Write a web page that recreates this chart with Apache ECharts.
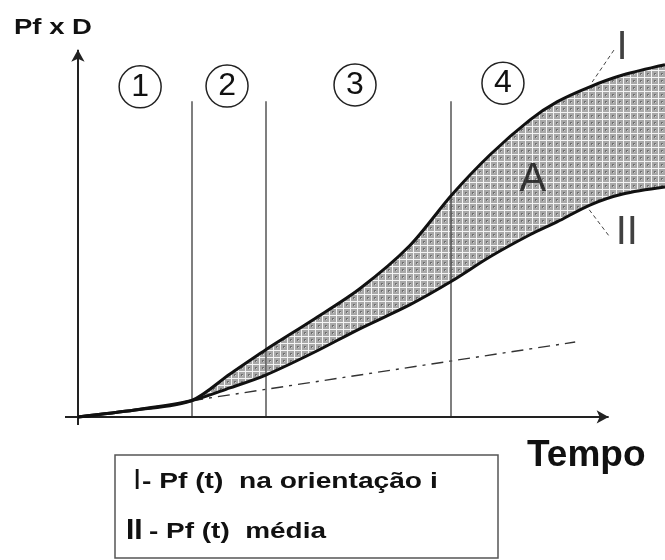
<!DOCTYPE html>
<html><head><meta charset="utf-8">
<script src="https://cdn.jsdelivr.net/npm/echarts@6/dist/echarts.min.js"></script>
<style>html,body{margin:0;padding:0;background:#fff}#c{width:665px;height:560px}</style>
</head><body><div id="c"></div>
<script>
// ---- data ----
const tempoComum = [0, 9.7, 19.3];
const pfComum = [0, 1.9, 4.4];
const tempo = [19.3, 25.9, 32.0, 40.0, 48.0, 56.5, 63.7, 70.2, 77.0, 81.6, 87.2, 92.8, 100];
const pfOrientacao = [4.4, 11.7, 18.3, 26.4, 34.9, 46.6, 60.5, 71.4, 80.9, 85.8, 89.9, 93.1, 95.9];
const pfMedia = [4.4, 7.9, 11.4, 17.4, 24.0, 30.5, 37.0, 43.6, 49.6, 53.1, 57.7, 60.7, 62.6];
const tempoTendencia = [19.3, 84.7];
const pfTendencia = [4.4, 20.4];
const limitesFases = [19.4, 32.0, 63.5];
const fases = ['1', '2', '3', '4'];
const legendaTextos = ['Pf (t)  na orientação i', 'Pf (t)  média'];

const FONT = "'Liberation Sans', Arial, sans-serif";
const zip = (xs, ys) => xs.map((x, i) => [x, ys[i]]);
const curvaI = zip(tempoComum, pfComum).concat(zip(tempo, pfOrientacao).slice(1));
const curvaII = zip(tempoComum, pfComum).concat(zip(tempo, pfMedia).slice(1));

function hatch() {
  const c = document.createElement('canvas'); c.width = 7; c.height = 7;
  const g = c.getContext('2d');
  g.fillStyle = '#a8a8a8'; g.fillRect(0, 0, 7, 7);
  g.fillStyle = '#f4f4f4'; g.fillRect(0, 0, 7, 1); g.fillRect(0, 0, 1, 7);
  g.fillStyle = '#707070'; g.fillRect(3, 3, 2, 2);
  g.fillStyle = '#d0d0d0'; g.fillRect(4, 4, 1, 1);
  return c;
}

const chart = echarts.init(document.getElementById('c'), null, {renderer: 'canvas'});
const faseCentros = [[10.6, 89.9], [25.4, 90.1], [47.2, 90.4], [72.4, 90.9]];
const SMOOTH = 0.3;

chart.setOption({
  animation: false,
  backgroundColor: '#fff',
  grid: {left: 65, right: 0, top: 13, bottom: 135},
  xAxis: {type: 'value', min: -2.2, max: 100, show: false},
  yAxis: {type: 'value', min: -2.2, max: 110, show: false},
  series: [
    {type: 'line', data: curvaI, smooth: SMOOTH, symbol: 'none', z: 1,
     lineStyle: {width: 0}, areaStyle: {color: {image: hatch(), repeat: 'repeat'}, opacity: 1, origin: 'start'}},
    {type: 'line', data: curvaII, smooth: SMOOTH, symbol: 'none', z: 2,
     lineStyle: {width: 0}, areaStyle: {color: '#ffffff', opacity: 1, origin: 'start'}},
    {type: 'line', data: [], z: 3, markLine: {
      silent: true, symbol: 'none', label: {show: false},
      lineStyle: {color: '#555', width: 1.5, type: 'solid'},
      data: limitesFases.map(t => [{coord: [t, 0]}, {coord: [t, 86]}])
    }},
    {type: 'line', data: zip(tempoTendencia, pfTendencia), symbol: 'none', z: 4,
     lineStyle: {color: '#333', width: 1.4, type: [12, 6, 3, 6]}},
    {type: 'line', data: curvaI, smooth: SMOOTH, symbol: 'none', z: 5,
     lineStyle: {color: '#111', width: 3}},
    {type: 'line', data: curvaII, smooth: SMOOTH, symbol: 'none', z: 5,
     lineStyle: {color: '#111', width: 3}},
    {type: 'line', data: [], z: 6, markLine: {
      silent: true, symbol: ['none', 'arrow'], symbolSize: [10, 12], label: {show: false},
      lineStyle: {color: '#222', width: 2, type: 'solid'},
      data: [[{coord: [-2.2, 0]}, {coord: [90.4, 0]}], [{coord: [0, -2.2]}, {coord: [0, 100]}]]
    }},
    {type: 'line', data: [], z: 6, markLine: {
      silent: true, symbol: 'none', label: {show: false},
      lineStyle: {color: '#444', width: 1, type: [4, 3]},
      data: [[{coord: [91.3, 99.9]}, {coord: [87.6, 91.2]}], [{coord: [87.1, 56.4]}, {coord: [90.6, 49.0]}]]
    }},
    {type: 'scatter', z: 7, symbolSize: 42,
     itemStyle: {color: '#fff', borderColor: '#222', borderWidth: 1.5, opacity: 1},
     label: {show: true, position: 'inside', formatter: p => fases[p.dataIndex],
             fontFamily: FONT, fontSize: 32, color: '#111'},
     data: faseCentros},
    {type: 'scatter', z: 7, symbolSize: 1, itemStyle: {color: 'rgba(0,0,0,0)'},
     label: {show: true, position: 'inside', formatter: p => p.data[2],
             fontFamily: FONT, fontSize: 40, color: '#111'},
     data: [[92.7, 100.5, 'I'], [93.5, 50.1, 'II'], [77.5, 64.5, 'A']]}
  ],
  graphic: [
    {type: 'text', x: 14, y: 28, scaleX: 1.25, style: {text: 'Pf x D', fontFamily: FONT, fontWeight: 'bold',
      fontSize: 22, fill: '#111', textVerticalAlign: 'middle'}},
    {type: 'text', x: 527, y: 456, style: {text: 'Tempo', fontFamily: FONT, fontWeight: 'bold',
      fontSize: 37, fill: '#111', textVerticalAlign: 'middle'}},
    {type: 'rect', shape: {x: 115, y: 455, width: 383, height: 103},
     style: {fill: '#fff', stroke: '#555', lineWidth: 1.5}},
    {type: 'text', x: 133, y: 481, style: {text: 'I', fontFamily: FONT, fontSize: 30, fill: '#111', textVerticalAlign: 'middle'}},
    {type: 'text', x: 142, y: 482, scaleX: 1.28, style: {text: '- ' + legendaTextos[0], fontFamily: FONT, fontWeight: 'bold',
      fontSize: 22, fill: '#111', textVerticalAlign: 'middle'}},
    {type: 'text', x: 126, y: 531, style: {text: 'II', fontFamily: FONT, fontWeight: 'bold', fontSize: 30, fill: '#111', textVerticalAlign: 'middle'}},
    {type: 'text', x: 149, y: 532, scaleX: 1.27, style: {text: '- ' + legendaTextos[1], fontFamily: FONT, fontWeight: 'bold',
      fontSize: 22, fill: '#111', textVerticalAlign: 'middle'}}
  ]
});
</script></body></html>
